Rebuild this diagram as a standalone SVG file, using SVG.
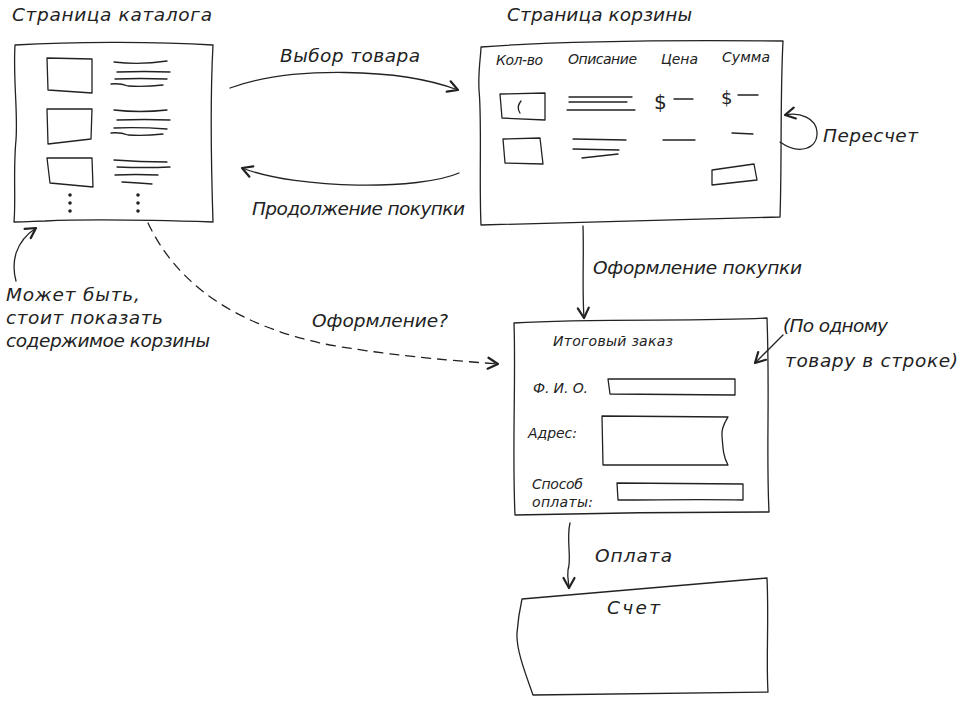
<svg xmlns="http://www.w3.org/2000/svg" width="963" height="701" viewBox="0 0 963 701">
<style>
text{font-family:"DejaVu Sans","Liberation Sans",sans-serif;font-style:italic;fill:#222}
.l{font-size:18.5px}
.s{font-size:14px}
.ln{fill:none;stroke:#222;stroke-width:1.3;stroke-linecap:round;stroke-linejoin:round}
.cn{fill:none;stroke:#222;stroke-width:1.3;stroke-linecap:round}
.dash{stroke-dasharray:9 7}
</style>
<defs>
<marker id="arr" viewBox="0 0 14 14" refX="12" refY="7" markerWidth="14" markerHeight="14" markerUnits="userSpaceOnUse" orient="auto">
<path d="M2,1.5 L12,7 L2,12.5" fill="none" stroke="#222" stroke-width="2.2" stroke-linecap="round" stroke-linejoin="round"/>
</marker>
</defs>
<rect width="963" height="701" fill="#fff"/>

<g id="catalog">
<text class="l" x="12" y="21" textLength="200">Страница каталога</text>
<path class="ln" d="M15,45 C70,42 150,41 213,45 C210,100 211,160 213,222 C150,220 90,219 45,221 C35,221 30,222 14,222 C16,200 13,170 16,140 C18,110 13,80 15,45 Z"/>
<path class="ln" d="M47,58 L92,59 L92,93 L48,90 Z"/>
<path class="ln" d="M47,109 L92,109 L91,139 L48,144 Z"/>
<path class="ln" d="M47,158 L92,158 L93,187 L50,183 Z"/>
<path class="ln" d="M114,62 Q140,65 167,61 M117,72 Q145,71 170,72 M115,79 Q140,78 167,79 M111,84 Q120,83 128,86 Q145,87 163,85"/>
<path class="ln" d="M114,110 Q140,113 167,110 M117,120 Q145,119 170,120 M114,128 Q140,127 167,129 M111,133 Q120,132 128,135 Q145,136 163,134"/>
<path class="ln" d="M114,160 Q140,162 167,162 M117,167 Q145,168 170,167 M115,175 Q135,174 158,175 M122,182 Q140,183 152,184"/>
<g fill="#222">
<circle cx="70" cy="195" r="1.8"/><circle cx="70" cy="203" r="1.8"/><circle cx="70" cy="211" r="1.8"/>
<circle cx="138" cy="195" r="1.8"/><circle cx="138" cy="203" r="1.8"/><circle cx="138" cy="211" r="1.8"/>
</g>
</g>

<g id="cart">
<text class="l" x="507" y="21" textLength="185">Страница корзины</text>
<path class="ln" d="M481,47 C560,41 680,40 783,41 C780,100 782,160 780,217 C700,219 600,222 481,225 C479,180 482,120 479,90 C478,70 481,55 481,47 Z"/>
<text class="s" x="496" y="65" textLength="47">Кол-во</text>
<text class="s" x="568" y="64" textLength="69">Описание</text>
<text class="s" x="661" y="64" textLength="37">Цена</text>
<text class="s" x="722" y="62" textLength="48">Сумма</text>
<path class="ln" d="M500,94 L545,93 L545,120 L502,118 Z"/>
<path class="ln" d="M521,101 Q516,107 520,113"/>
<path class="ln" d="M569,97 L632,97 M569,102 L627,102 M567,110 L635,110"/>
<text x="654" y="109" style="font-size:20px;font-style:normal">$</text>
<path class="ln" d="M674,99 L693,99"/>
<text x="721" y="104" style="font-size:18px;font-style:normal">$</text>
<path class="ln" d="M738,95 L758,95"/>
<path class="ln" d="M503,139 L540,138 L543,164 L505,163 Z"/>
<path class="ln" d="M573,139 L626,140 M573,149 L619,150 M582,158 L618,154"/>
<path class="ln" d="M663,140 L695,140"/>
<path class="ln" d="M732,133 L753,134"/>
<path class="ln" d="M712,170 L754,164 L757,180 L712,185 Z"/>
</g>

<g id="order">
<path class="ln" d="M514,323 C600,318 700,322 767,318 C770,400 766,450 769,512 C700,512 600,513 515,515 C512,450 516,380 514,323 Z"/>
<text class="s" x="553" y="346" textLength="120">Итоговый заказ</text>
<text class="s" x="533" y="393" textLength="55">Ф. И. О.</text>
<path class="ln" d="M608,379 L735,379 L735,395 L610,394 Z"/>
<text class="s" x="528" y="438" textLength="49">Адрес:</text>
<path class="ln" d="M602,416 L728,417 C725,422 721,428 722,436 C723,448 723,456 728,465 L603,465 Z"/>
<text class="s" x="532" y="489" textLength="51">Способ</text>
<text class="s" x="532" y="507" textLength="61">оплаты:</text>
<path class="ln" d="M617,483 L743,484 L743,500 C700,499 660,500 618,500 Z"/>
</g>

<g id="invoice">
<path class="ln" d="M522,599 L767,578 C769,620 766,660 768,692 L533,695 C526,675 516,650 517,633 C518,620 520,608 522,599 Z"/>
<text class="l" x="607" y="614" textLength="53">Счет</text>
</g>

<g id="note-left">
<text class="l" x="6" y="301" textLength="134">Может быть,</text>
<text class="l" x="6" y="324" textLength="157">стоит показать</text>
<text class="l" x="6" y="347" textLength="204">содержимое корзины</text>
</g>

<g id="note-right">
<text class="l" x="783" y="332" textLength="105">(По одному</text>
<text class="l" x="785" y="367" textLength="173">товару в строке)</text>
</g>

<g id="connectors">
<path class="cn" d="M230,88 C290,66 400,68 458,90" marker-end="url(#arr)"/>
<text class="l" x="280" y="62" textLength="140">Выбор товара</text>
<path class="cn" d="M459,173 C420,190 300,190 242,168" marker-end="url(#arr)"/>
<text class="l" x="252" y="215" textLength="213">Продолжение покупки</text>
<path class="cn" d="M780,142 C800,156 818,148 817,132 C816,118 800,112 785,115" marker-end="url(#arr)"/>
<text class="l" x="823" y="142" textLength="95">Пересчет</text>
<path class="cn" d="M583,226 C584,255 582,290 584,318" marker-end="url(#arr)"/>
<text class="l" x="593" y="274" textLength="209">Оформление покупки</text>
<path class="cn dash" d="M148,223 C175,280 230,325 330,345 C400,357 460,361 498,364" marker-end="url(#arr)"/>
<text class="l" x="312" y="327" textLength="136">Оформление?</text>
<path class="cn" d="M570,523 C566,540 572,558 568,570 C567,578 569,583 569,588" marker-end="url(#arr)"/>
<text class="l" x="595" y="562" textLength="77">Оплата</text>
<path class="cn" d="M16,281 C11,262 15,242 36,228" marker-end="url(#arr)"/>
<path class="cn" d="M783,335 L755,363" marker-end="url(#arr)"/>
</g>
</svg>
